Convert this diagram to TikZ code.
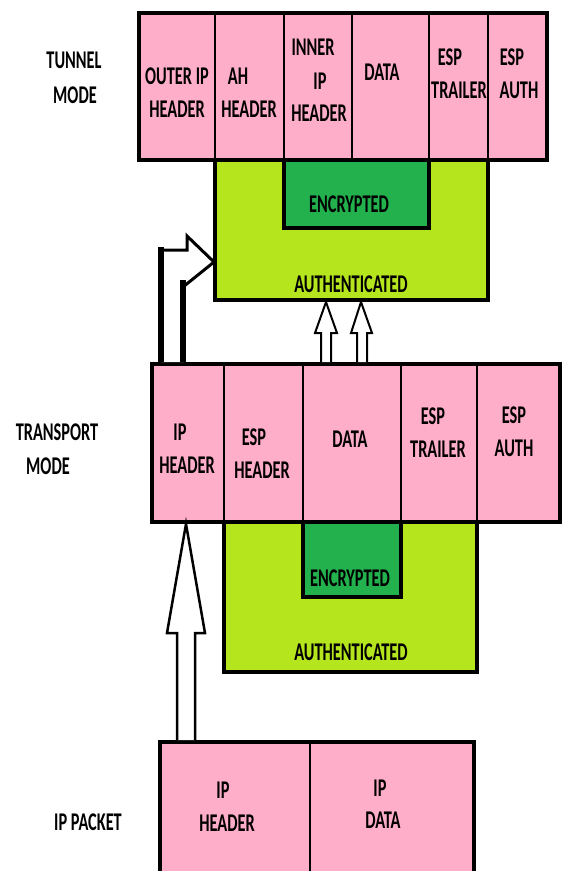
\documentclass[tikz,border=0pt]{standalone}
\usepackage{fontspec}
\newfontfamily\lbfam[FakeStretch=0.64]{Carlito}
\definecolor{rose}{HTML}{FFAEC9}
\definecolor{lime}{HTML}{B5E61D}
\definecolor{grn}{HTML}{22B14C}
\begin{document}
\begin{tikzpicture}[x=1pt,y=-1pt,
  lbl/.style={inner sep=0pt, font=\lbfam\bfseries\fontsize{25.5}{28}\selectfont},
  pkt/.style={fill=rose, draw=black, line width=4pt},
  divl/.style={draw=black, line width=2.6pt},
  auth/.style={fill=lime, draw=black, line width=3.5pt},
  enc/.style={fill=grn, draw=black, line width=3.5pt},
  blk/.style={fill=white, draw=black, line width=2.5pt, line join=miter}]
\useasboundingbox (0,0) rectangle (562,871);
\clip (0,0) rectangle (562,871);

% ---------- tunnel mode ----------
\draw[auth] (215,160) rectangle (488,300);
\draw[enc] (284,160) rectangle (429,228);
\draw[pkt] (139,13) rectangle (547,160);
\foreach \x in {215,284,352,429,488} \draw[divl] (\x,13) -- (\x,160);

% ---------- transport mode ----------
\draw[auth] (224,522) rectangle (477,672);
\draw[enc] (303,522) rectangle (401,597);
\draw[pkt] (152,364) rectangle (560,522);
\foreach \x in {224,303,401,477} \draw[divl] (\x,364) -- (\x,522);

% ---------- IP packet ----------
\draw[pkt] (160,742) rectangle (474,890);
\draw[divl] (310,742) -- (310,890);

% ---------- arrows ----------
\draw[blk] (177,740) -- (177,633) -- (167,633) -- (186,524) -- (205,633) -- (195,633) -- (195,740);
\draw[blk, line width=2pt] (321,362) -- (321,333) -- (315,333) -- (326,302) -- (337,333) -- (331,333) -- (331,362);
\draw[blk, line width=2pt] (357,362) -- (357,333) -- (351,333) -- (361,302) -- (372,333) -- (367,333) -- (367,362);
\fill[white] (161,362) -- (161,250) -- (187,250) -- (187,236) -- (214,262) -- (184,284) -- (184,362) -- cycle;
\draw[line width=6.5pt] (161,362) -- (161,247);
\draw[line width=6.5pt] (183,362) -- (183,280);
\draw[line width=3pt, line join=miter] (158,250) -- (187,250) -- (187,236) -- (214,262) -- (183,287);

% ---------- labels ----------
\node[lbl] (tunA) at (74,60) {TUNNEL};
\node[lbl] (tunB) at (75,95) {MODE};
\node[lbl] (trnA) at (57,432) {TRANSPORT};
\node[lbl] (trnB) at (48,466) {MODE};
\node[lbl] (ipp) at (88,822) {IP PACKET};

\node[lbl] (t1a) at (177,76) {OUTER IP};
\node[lbl] (t1b) at (177,109) {HEADER};
\node[lbl] (t2a) at (238,76) {AH};
\node[lbl] (t2b) at (249,109) {HEADER};
\node[lbl] (t3a) at (313,47) {INNER};
\node[lbl] (t3b) at (320,81) {IP};
\node[lbl] (t3c) at (319,113) {HEADER};
\node[lbl] (t4) at (382,72) {DATA};
\node[lbl] (t5a) at (450,57) {ESP};
\node[lbl] (t5b) at (459,90) {TRAILER};
\node[lbl] (t6a) at (512,57) {ESP};
\node[lbl] (t6b) at (519,90) {AUTH};
\node[lbl] (tenc) at (349,204) {ENCRYPTED};
\node[lbl] (tauth) at (351,284) {AUTHENTICATED};

\node[lbl] (r1a) at (180,432) {IP};
\node[lbl] (r1b) at (187,465) {HEADER};
\node[lbl] (r2a) at (254,437) {ESP};
\node[lbl] (r2b) at (262,470) {HEADER};
\node[lbl] (r3) at (350,439) {DATA};
\node[lbl] (r4a) at (433,416) {ESP};
\node[lbl] (r4b) at (438,449) {TRAILER};
\node[lbl] (r5a) at (514,415) {ESP};
\node[lbl] (r5b) at (514,448) {AUTH};
\node[lbl] (renc) at (350,578) {ENCRYPTED};
\node[lbl] (rauth) at (351,652) {AUTHENTICATED};

\node[lbl] (p1a) at (223,790) {IP};
\node[lbl] (p1b) at (227,823) {HEADER};
\node[lbl] (p2a) at (380,788) {IP};
\node[lbl] (p2b) at (383,820) {DATA};
\end{tikzpicture}
\end{document}
